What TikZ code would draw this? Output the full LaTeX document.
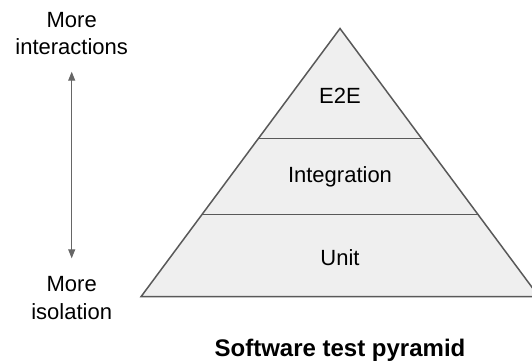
\documentclass[tikz,border=0pt]{standalone}
\usepackage{fontspec}
\setmainfont{Liberation Sans}
\usetikzlibrary{calc,arrows.meta}
\definecolor{pyrfill}{HTML}{EFEFEF}
\definecolor{pyrline}{HTML}{595959}
\definecolor{arrgrey}{HTML}{666666}
\tikzset{
  lbl/.style={anchor=base, inner sep=0pt, font=\fontsize{22}{26}\selectfont, text=black},
  ttl/.style={anchor=base, inner sep=0pt, font=\fontsize{24}{28}\selectfont\bfseries, text=black},
  tier/.style={draw=pyrline, line width=1.5pt},
  axisarrow/.style={draw=arrgrey, line width=1pt, {Triangle[length=9pt,width=7pt]}-{Triangle[length=9pt,width=7pt]}}
}
\begin{document}
\begin{tikzpicture}[x=1pt,y=-1pt]
\useasboundingbox (0,0) rectangle (532,362);
% pyramid
\coordinate (apex) at (340,28.5);
\coordinate (bl) at (141,296.7);
\coordinate (br) at (539,296.7);
\filldraw[tier, fill=pyrfill, line join=miter] (apex) -- (bl) -- (br) -- cycle;
\coordinate (d1l) at ($(apex)!0.4094!(bl)$);
\coordinate (d1r) at ($(apex)!0.4094!(br)$);
\coordinate (d2l) at ($(apex)!0.6928!(bl)$);
\coordinate (d2r) at ($(apex)!0.6928!(br)$);
\draw[tier] (d1l) -- (d1r);
\draw[tier] (d2l) -- (d2r);
% tier labels
\node[lbl] (e2e) at (340,103) {E2E};
\node[lbl] (integ) at (340,182) {Integration};
\node[lbl] (unit) at (340,265.5) {Unit};
\node[ttl] (title) at (340,356.5) {Software test pyramid};
% left axis
\node[lbl] (more1) at (71.7,27.3) {More};
\node[lbl] (inter) at (71.7,54.3) {interactions};
\node[lbl] (more2) at (71.7,291.7) {More};
\node[lbl] (isol) at (71.7,319.3) {isolation};
\coordinate (atop) at (71.7,71.7);
\coordinate (abot) at (71.7,258.3);
\draw[axisarrow] (atop) -- (abot);
\end{tikzpicture}
\end{document}
